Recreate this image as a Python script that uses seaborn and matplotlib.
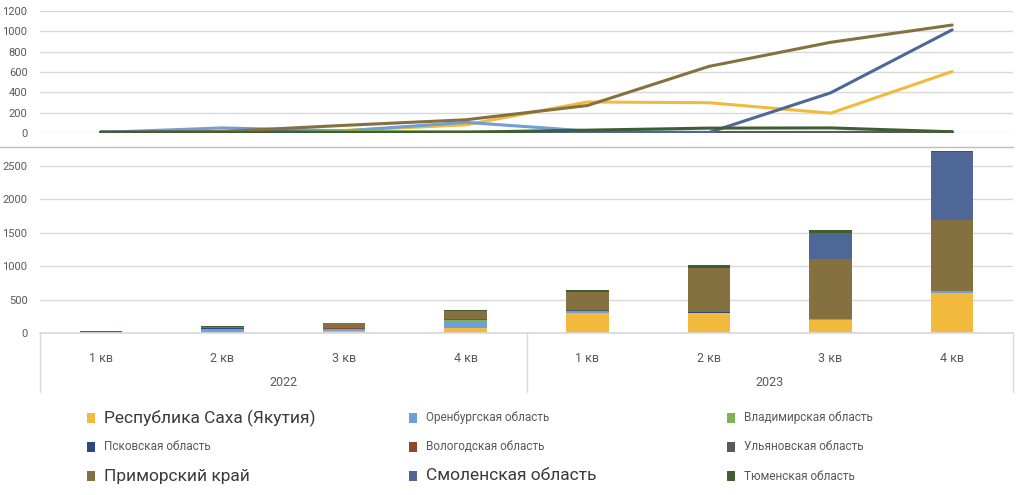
import numpy as np
import pandas as pd
import matplotlib
matplotlib.use("Agg")
import matplotlib.pyplot as plt
import seaborn as sns
from matplotlib.patches import Rectangle
import matplotlib.transforms as mtransforms

sns.set_theme(style="white")
plt.rcParams['font.family'] = ['Roboto', 'DejaVu Sans']

# ---- data ----
quarters = ["1 кв", "2 кв", "3 кв", "4 кв", "1 кв", "2 кв", "3 кв", "4 кв"]
years = ["2022", "2023"]
regions = ["Республика Саха (Якутия)", "Оренбургская область", "Владимирская область",
           "Псковская область", "Вологодская область", "Ульяновская область",
           "Приморский край", "Смоленская область", "Тюменская область"]
saha = [3, 5, 25, 80, 305, 298, 195, 605]
orenburg = [5, 50, 20, 105, 20, 5, 5, 15]
vladimir = [2, 3, 15, 10, 5, 3, 3, 3]
pskov = [3, 15, 5, 3, 2, 2, 2, 2]
vologda = [2, 3, 5, 2, 2, 2, 2, 2]
ulyanovsk = [12, 5, 5, 3, 5, 5, 5, 3]
primorye = [3, 15, 75, 130, 270, 655, 892, 1062]
smolensk = [0, 0, 0, 0, 3, 5, 395, 1015]
tyumen = [5, 3, 5, 8, 28, 48, 50, 12]
series = [saha, orenburg, vladimir, pskov, vologda, ulyanovsk, primorye, smolensk, tyumen]
colors = ["#F2BA3C", "#6F9ED8", "#7FB455", "#2E4A7D", "#8B4A2A", "#5A5A5A",
          "#85703F", "#4E6797", "#3F5F30"]
big_labels = {"Республика Саха (Якутия)", "Приморский край", "Смоленская область"}

pos = list(range(len(quarters)))
df = pd.DataFrame([(p, r, v) for r, s in zip(regions, series) for p, v in zip(pos, s)],
                  columns=["pos", "region", "value"])

W, H = 1024, 495
fig = plt.figure(figsize=(W / 100, H / 100), dpi=100)
L, R = 40, 1013
ax1 = fig.add_axes([L / W, 1 - 133 / H, (R - L) / W, 122 / H])
ax2 = fig.add_axes([L / W, 1 - 333 / H, (R - L) / W, 187 / H])

grid_c = "#D9D9D9"
tick_c = "#595959"

# ---- top: lines ----
sns.lineplot(data=df, x="pos", y="value", hue="region", hue_order=regions,
             palette=colors, linewidth=2.2, legend=False, ax=ax1, zorder=3)
ax1.set_xlim(-0.5, 7.5)
ax1.set_ylim(0, 1200)
ax1.set_yticks(np.arange(0, 1201, 200))
ax1.set_xticks([])
ax1.set_xlabel("")
ax1.set_ylabel("")
ax1.grid(axis="y", color=grid_c, linewidth=1)
for s in ax1.spines.values():
    s.set_visible(False)
ax1.tick_params(axis="y", labelsize=8, colors=tick_c, length=0, pad=9)

# ---- bottom: stacked bars ----
cum = np.cumsum(np.array(series, dtype=float), axis=0)
for i in reversed(range(len(series))):
    sns.barplot(x=pos, y=cum[i], color=colors[i], width=0.35, saturation=1,
                errorbar=None, ax=ax2, zorder=2, linewidth=0)
ax2.set_xlim(-0.5, 7.5)
ax2.set_ylim(0, 2500 * 187 / 167)
ax2.set_yticks(np.arange(0, 2501, 500))
ax2.set_xticks(pos)
ax2.set_xticklabels(quarters)
ax2.set_xlabel("")
ax2.set_ylabel("")
ax2.set_axisbelow(True)
ax2.grid(axis="y", color=grid_c, linewidth=1)
for k, s in ax2.spines.items():
    s.set_visible(k == "bottom")
ax2.spines["bottom"].set_color(grid_c)
ax2.tick_params(axis="y", labelsize=8, colors=tick_c, length=0, pad=9)
ax2.tick_params(axis="x", labelsize=9, colors=tick_c, length=0, pad=14)

trans = mtransforms.blended_transform_factory(ax2.transData, ax2.transAxes)
for xv in [-0.5, 3.5, 7.5]:
    ax2.plot([xv, xv], [0, -59 / 187], transform=trans, color=grid_c,
             linewidth=1, clip_on=False)
for j, y in enumerate(years):
    ax2.text(1.5 + 4 * j, -49 / 187, y, transform=trans, ha="center", va="center",
             fontsize=9, color=tick_c)

# separator line between panels
fig.add_artist(plt.Line2D([0, R / W], [1 - 146.5 / H, 1 - 146.5 / H],
                          color="#BFBFBF", linewidth=1))

# ---- legend ----
col_x = [87, 409, 727]
row_y = [418, 447, 476]
for i, (lab, c) in enumerate(zip(regions, colors)):
    r, cidx = divmod(i, 3)
    x0, y0 = col_x[cidx], row_y[r]
    fig.add_artist(Rectangle((x0 / W, 1 - (y0 + 5) / H), 8 / W, 10 / H,
                             transform=fig.transFigure, color=c, linewidth=0))
    big = lab in big_labels
    fig.text((x0 + 17) / W, 1 - y0 / H, lab, ha="left", va="center",
             fontsize=12.5 if big else 8.5, color="#3A3A3A" if big else tick_c)

fig.savefig("out.png", dpi=100, facecolor="white")
